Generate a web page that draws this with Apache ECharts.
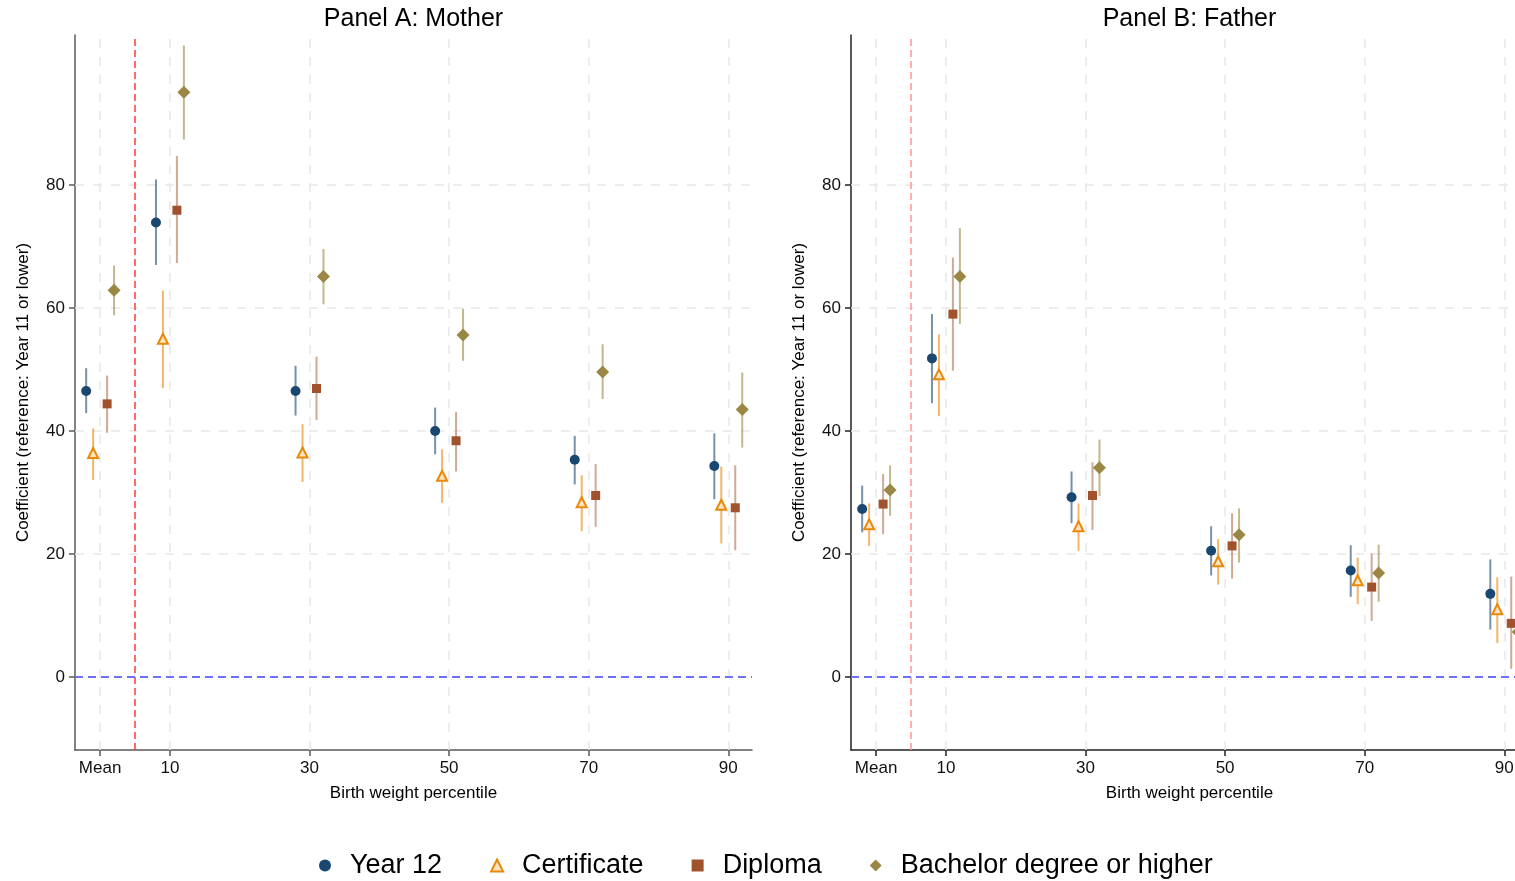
<!DOCTYPE html>
<html>
<head>
<meta charset="utf-8">
<title>Coefficients by birth weight percentile</title>
<script src="https://cdn.jsdelivr.net/npm/echarts@6/dist/echarts.min.js"></script>
<style>
  html, body { margin: 0; padding: 0; background: #fff; }
  #chart { width: 1515px; height: 881px; }
</style>
</head>
<body>
<div id="chart"></div>
<script>
const tickValues = [0, 10, 30, 50, 70, 90]
const tickLabels = ['Mean', '10', '30', '50', '70', '90']
const yTickValues = [0, 20, 40, 60, 80]
const groupNames = ['Year 12', 'Certificate', 'Diploma', 'Bachelor degree or higher']
const groupOffsets = [-2, -1, 1, 2]
const panelTitles = ['Panel A: Mother', 'Panel B: Father']

// Panel A: mother
const motherYear12 = [46.5, 73.9, 46.5, 40.0, 35.3, 34.3]
const motherYear12Lo = [42.9, 67.0, 42.5, 36.2, 31.3, 28.9]
const motherYear12Hi = [50.2, 80.9, 50.6, 43.8, 39.2, 39.6]
const motherCert = [36.4, 55.0, 36.5, 32.7, 28.4, 28.0]
const motherCertLo = [32.0, 47.0, 31.7, 28.3, 23.7, 21.7]
const motherCertHi = [40.4, 62.8, 41.1, 37.0, 32.8, 34.2]
const motherDiploma = [44.4, 75.9, 46.9, 38.4, 29.5, 27.5]
const motherDiplomaLo = [39.7, 67.3, 41.8, 33.4, 24.4, 20.6]
const motherDiplomaHi = [49.0, 84.7, 52.1, 43.1, 34.6, 34.4]
const motherBachelor = [62.9, 95.1, 65.1, 55.6, 49.6, 43.5]
const motherBachelorLo = [58.8, 87.4, 60.6, 51.4, 45.2, 37.3]
const motherBachelorHi = [66.9, 102.7, 69.6, 59.9, 54.1, 49.5]

// Panel B: father
const fatherYear12 = [27.3, 51.8, 29.2, 20.5, 17.3, 13.5]
const fatherYear12Lo = [23.5, 44.5, 25.0, 16.5, 13.0, 7.7]
const fatherYear12Hi = [31.1, 59.0, 33.4, 24.5, 21.4, 19.1]
const fatherCert = [24.8, 49.2, 24.5, 18.8, 15.7, 11.0]
const fatherCertLo = [21.3, 42.4, 20.5, 15.0, 11.8, 5.5]
const fatherCertHi = [28.2, 55.7, 28.2, 22.4, 19.4, 16.2]
const fatherDiploma = [28.1, 59.0, 29.5, 21.3, 14.6, 8.7]
const fatherDiplomaLo = [23.2, 49.8, 23.9, 16.0, 9.1, 1.3]
const fatherDiplomaHi = [33.0, 68.2, 34.9, 26.6, 20.1, 16.3]
const fatherBachelor = [30.4, 65.1, 34.0, 23.1, 16.9, 7.3]
const fatherBachelorLo = [26.2, 57.4, 29.4, 18.6, 12.2, 2.5]
const fatherBachelorHi = [34.4, 73.0, 38.6, 27.4, 21.5, 12.0]

const panels = [
  {
    est: [motherYear12, motherCert, motherDiploma, motherBachelor],
    lo: [motherYear12Lo, motherCertLo, motherDiplomaLo, motherBachelorLo],
    hi: [motherYear12Hi, motherCertHi, motherDiplomaHi, motherBachelorHi]
  },
  {
    est: [fatherYear12, fatherCert, fatherDiploma, fatherBachelor],
    lo: [fatherYear12Lo, fatherCertLo, fatherDiplomaLo, fatherBachelorLo],
    hi: [fatherYear12Hi, fatherCertHi, fatherDiplomaHi, fatherBachelorHi]
  }
]

const groupStyles = [
  { symbol: 'circle', size: 10, color: '#1a476f', fill: '#1a476f', border: 0, ci: 'rgba(26,71,111,0.6)' },
  { symbol: 'triangle', size: 10, color: '#e8890c', fill: '#fde3c0', border: 2, ci: 'rgba(238,150,40,0.7)' },
  { symbol: 'rect', size: 9, color: '#a0522d', fill: '#a0522d', border: 0, ci: 'rgba(160,82,45,0.5)' },
  { symbol: 'diamond', size: 13, color: '#9a8744', fill: '#9a8744', border: 0, ci: 'rgba(154,135,68,0.6)' }
]

const font = '"Liberation Sans", Arial, sans-serif'
const gridLefts = [75, 851]
const gridWidth = 677
const axisColors = ['#5a5a5a', '#222']
const cutoffColors = ['#ff4545', '#ff9a9a']

const chart = echarts.init(document.getElementById('chart'))

const series = []
panels.forEach((panel, p) => {
  // reference lines and dashed grid
  series.push({
    name: 'refs' + p,
    type: 'line',
    xAxisIndex: p,
    yAxisIndex: p,
    data: [],
    silent: true,
    markLine: {
      silent: true,
      symbol: 'none',
      z: 1,
      animation: false,
      label: { show: false },
      data: [
        ...tickValues.map(v => ({ xAxis: v, lineStyle: { color: '#e8e8e8', width: 1.5, type: [9, 9] } })),
        ...yTickValues.slice(1).map(v => ({ yAxis: v, lineStyle: { color: '#e8e8e8', width: 1.5, type: [9, 9] } })),
        { xAxis: 5, lineStyle: { color: cutoffColors[p], width: 1.6, type: [7, 4] } },
        { yAxis: 0, lineStyle: { color: '#6f6fff', width: 2, type: [8, 5] } }
      ]
    }
  })
  groupNames.forEach((name, g) => {
    const st = groupStyles[g]
    series.push({
      name: name + ' CI',
      type: 'custom',
      xAxisIndex: p,
      yAxisIndex: p,
      z: 2,
      encode: { x: 0, y: [1, 2] },
      data: tickValues.map((t, i) => [t + groupOffsets[g], panel.lo[g][i], panel.hi[g][i]]),
      renderItem: function (params, api) {
        const top = api.coord([api.value(0), api.value(2)])
        const bottom = api.coord([api.value(0), api.value(1)])
        return {
          type: 'line',
          shape: { x1: top[0], y1: top[1], x2: bottom[0], y2: bottom[1] },
          style: { stroke: st.ci, lineWidth: 2 }
        }
      }
    })
    series.push({
      name: name,
      type: 'scatter',
      xAxisIndex: p,
      yAxisIndex: p,
      z: 3,
      symbol: st.symbol,
      symbolSize: st.size,
      itemStyle: {
        color: st.fill,
        borderColor: st.color,
        borderWidth: st.border,
        opacity: 1
      },
      data: tickValues.map((t, i) => [t + groupOffsets[g], panel.est[g][i]])
    })
  })
})

const option = {
  animation: false,
  backgroundColor: '#fff',
  textStyle: { fontFamily: font },
  title: panelTitles.map((t, p) => ({
    text: t,
    left: gridLefts[p] + gridWidth / 2,
    textAlign: 'center',
    top: 7,
    padding: 0,
    textStyle: { fontFamily: font, fontSize: 25, fontWeight: 'normal', color: '#000' }
  })),
  legend: {
    data: groupNames,
    left: 314,
    top: 847,
    itemWidth: 12,
    itemHeight: 12,
    itemGap: 48,
    textStyle: { fontFamily: font, fontSize: 27, color: '#000', padding: [0, 0, 0, 14] }
  },
  grid: gridLefts.map(l => ({ left: l, width: gridWidth, top: 35, height: 715, outerBoundsMode: 'none', containLabel: false })),
  xAxis: gridLefts.map((l, p) => ({
    type: 'value',
    gridIndex: p,
    min: -3.6,
    max: 93.4,
    name: 'Birth weight percentile',
    nameLocation: 'middle',
    nameGap: 35,
    nameTextStyle: { fontFamily: font, fontSize: 17, color: '#000' },
    axisLine: { show: true, onZero: false, lineStyle: { color: axisColors[p], width: 1.5 } },
    axisTick: { show: true, length: 6, customValues: tickValues, lineStyle: { color: axisColors[p], width: 1.5 } },
    axisLabel: {
      customValues: tickValues,
      margin: 10,
      fontFamily: font,
      fontSize: 17,
      color: '#111',
      formatter: v => tickLabels[tickValues.indexOf(v)]
    },
    splitLine: { show: false }
  })),
  yAxis: gridLefts.map((l, p) => ({
    type: 'value',
    gridIndex: p,
    min: -11.9,
    max: 104.4,
    name: 'Coefficient (reference: Year 11 or lower)',
    nameLocation: 'middle',
    nameGap: 43,
    nameTextStyle: { fontFamily: font, fontSize: 17, color: '#000' },
    axisLine: { show: true, onZero: false, lineStyle: { color: axisColors[p], width: 1.5 } },
    axisTick: { show: true, length: 6, customValues: yTickValues, lineStyle: { color: axisColors[p], width: 1.5 } },
    axisLabel: { customValues: yTickValues, margin: 10, fontFamily: font, fontSize: 17, color: '#111' },
    splitLine: { show: false }
  })),
  series: series
}

chart.setOption(option)
</script>
</body>
</html>
